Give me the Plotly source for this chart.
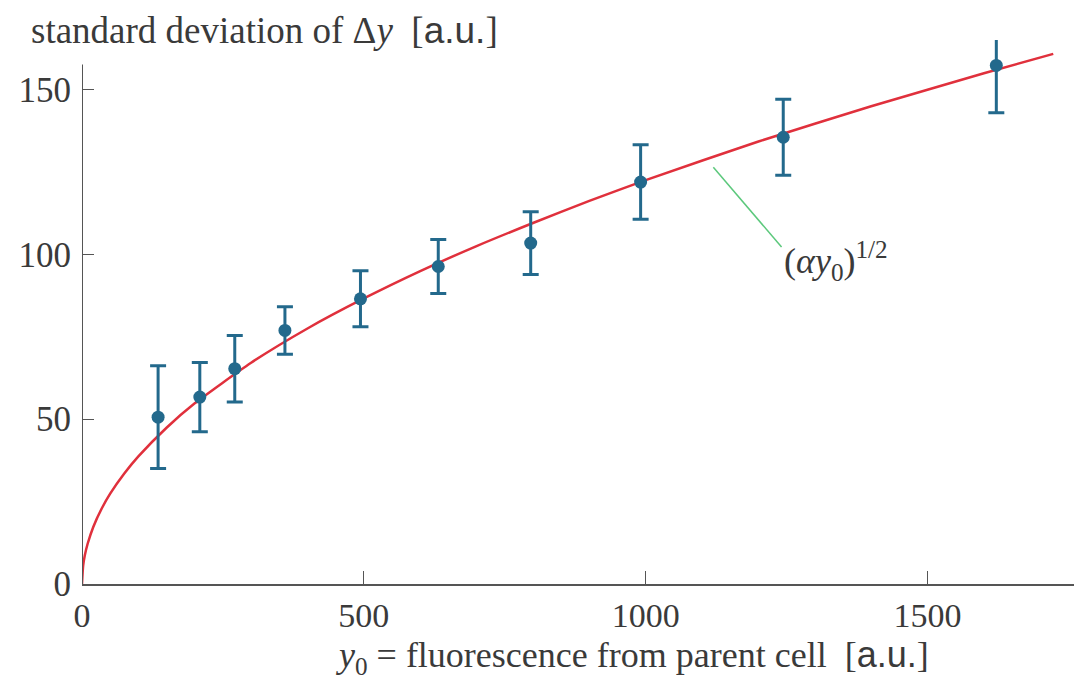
import plotly.graph_objects as go

# measured points: parent fluorescence vs std of delta y
y0 = [135, 209, 271, 360, 494, 632, 796, 991, 1244, 1622]
sd = [50.6, 56.7, 65.3, 76.9, 86.5, 96.3, 103.4, 121.9, 135.5, 157.3]
sd_err = [15.6, 10.5, 10.1, 7.2, 8.5, 8.2, 9.5, 11.3, 11.5, 14.4]

# fitted curve (alpha*y0)^(1/2)
fit_x = [0, 2, 5, 10, 20, 35, 50, 75, 100, 150, 200, 300, 400, 500, 600, 700,
         800, 900, 1000, 1200, 1400, 1600, 1723]
fit_y = [0, 5.5, 8.7, 12.2, 17.3, 22.9, 27.4, 33.5, 38.7, 47.4, 54.8, 67.1,
         77.5, 86.6, 94.9, 102.5, 109.5, 116.2, 122.5, 134.2, 144.9, 154.9, 160.8]

# pointer line for the curve label
pointer_x = [1120, 1241]
pointer_y = [126.4, 102.2]

serif = "Liberation Serif, DejaVu Serif, serif"
sans = "Liberation Sans"
blue = "#23698c"
grey = "#555555"
txt = "#3a3a3a"

fit_go = go.Scatter(
    x=fit_x, y=fit_y, mode="lines",
    line={"color": "#e0303c", "width": 2.5, "shape": "spline", "smoothing": 0.6},
    hoverinfo="skip",
)

pointer_go = go.Scatter(
    x=pointer_x, y=pointer_y, mode="lines",
    line={"color": "#5cc87c", "width": 1.5},
    hoverinfo="skip",
)

points_go = go.Scatter(
    x=y0, y=sd, mode="markers",
    marker={"color": blue, "size": 13},
    error_y={"type": "data", "array": sd_err, "color": blue,
             "thickness": 3, "width": 8},
)

fig = go.Figure(data=[fit_go, pointer_go, points_go])

# page body has an 8px margin, so the figure is 8px smaller and shifted
fig.update_layout(
    width=1074, height=671,
    margin=dict(l=74, r=0, t=32, b=95),
    paper_bgcolor="white", plot_bgcolor="white",
    showlegend=False,
    font=dict(family=serif, size=34, color=txt),
)

fig.update_xaxes(
    range=[0, 1774], tickvals=[0, 500, 1000, 1500],
    showgrid=False, zeroline=False,
    showline=True, linecolor=grey, linewidth=2,
    ticks="inside", ticklen=13, tickcolor=grey, tickwidth=1,
    ticklabelstandoff=0,
    tickfont=dict(family=serif, size=34, color=txt),
)

fig.update_yaxes(
    range=[0, 165], tickvals=[0, 50, 100, 150],
    showgrid=False, zeroline=False, showline=False,
    ticks="inside", ticklen=12, tickcolor=grey, tickwidth=1,
    ticklabelstandoff=10,
    tickfont=dict(family=serif, size=35, color=txt),
)

# y axis line stops short of the top
fig.add_shape(type="line", xref="x", yref="y", x0=0, x1=0, y0=0, y1=157.6,
              line=dict(color=grey, width=2))

# axis titles as annotations (y title sits above the axis, x title off-centre)
fig.add_annotation(
    text="standard deviation of Δ<i>y</i>  [<span style=\"font-family:"
         + sans + "\">a.u.</span>]",
    xref="paper", yref="paper", x=-0.053, y=1.0588,
    xanchor="left", yanchor="top", showarrow=False,
    font=dict(family=serif, size=37, color=txt),
)

fig.add_annotation(
    text="<i>y</i><sub>0</sub> = fluorescence from parent cell  [<span style=\"font-family:"
         + sans + "\">a.u.</span>]",
    xref="paper", yref="paper", x=0.55, y=-0.134,
    xanchor="center", yanchor="middle", showarrow=False,
    font=dict(family=serif, size=36, color=txt),
)

fig.add_annotation(
    text="(<i>αy</i><sub>0</sub>)<sup>1/2</sup>",
    xref="x", yref="y", x=1241, y=98, xanchor="left", yanchor="middle",
    showarrow=False, font=dict(family=serif, size=36, color=txt),
)

fig.write_html("out.html")
